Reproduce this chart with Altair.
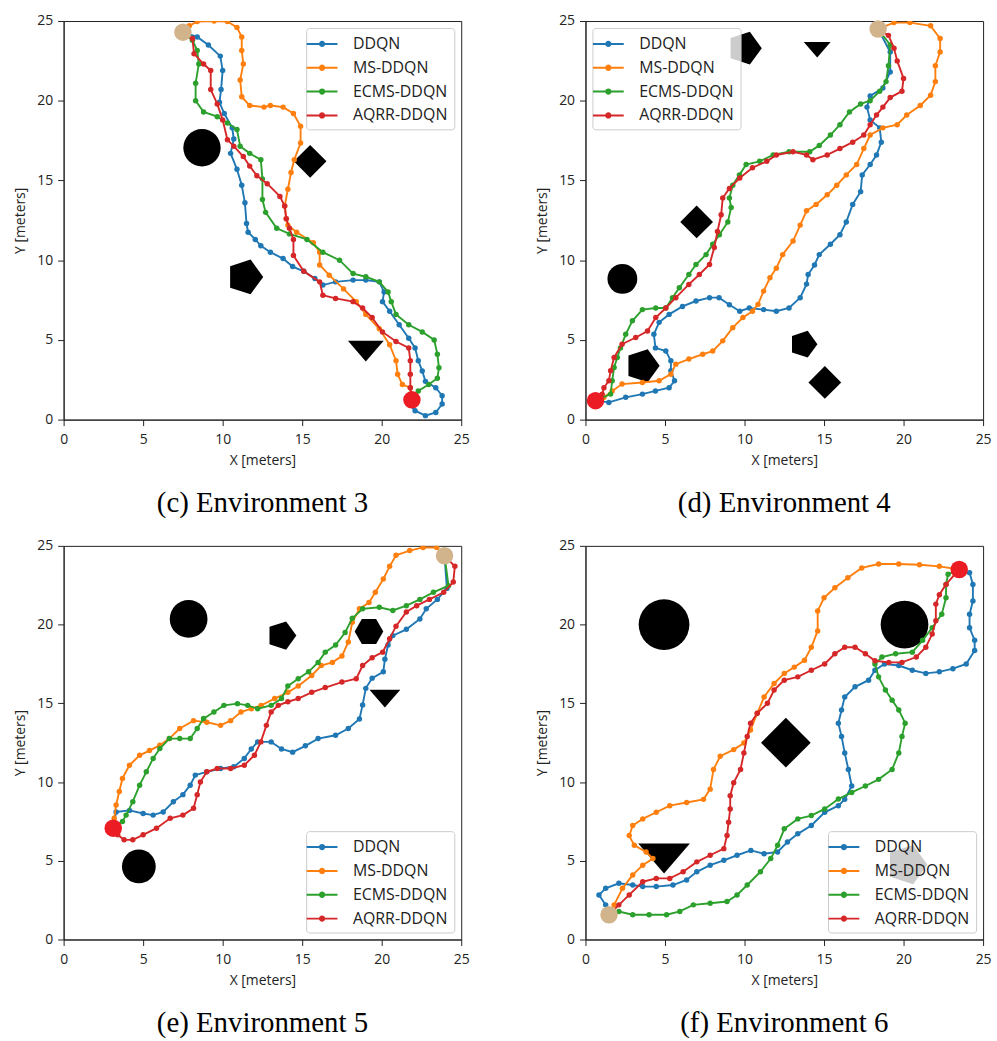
import altair as alt
import pandas as pd

METHODS = ["DDQN", "MS-DDQN", "ECMS-DDQN", "AQRR-DDQN"]
COLORS = ["#1f77b4", "#ff7f0e", "#2ca02c", "#d62728"]
TICKS = [0, 5, 10, 15, 20, 25]

# ---------------- Environment 3 ----------------
C_START = (7.5, 24.3)
C_GOAL = (21.9, 1.24)
C_DDQN = [(7.5,24.3),(8.4,24.0),(9.1,23.5),(9.85,22.8),(10.0,21.9),(9.9,20.7),(9.8,19.9),(10.1,19.2),(10.6,18.3),(10.7,17.6),(10.5,16.7),(10.9,15.7),(11.2,14.7),(11.4,13.6),(11.5,12.3),(11.6,11.75),(12.05,11.3),(12.4,10.9),(13.0,10.5),(13.8,10.1),(14.4,9.6),(15.1,9.3),(15.8,8.85),(16.3,8.44),(17.1,8.64),(18.2,8.75),(19.0,8.75),(19.85,8.64),(20.15,8.0),(20.05,7.4),(20.5,6.8),(21.1,5.95),(21.7,5.1),(22.1,4.5),(22.3,3.7),(22.55,3.05),(22.75,2.4),(23.4,2.0),(23.8,1.5),(23.8,0.98),(23.4,0.45),(22.75,0.25),(22.1,0.56),(21.7,0.98),(21.9,1.24)]
C_MS = [(7.5,24.3),(7.9,24.7),(8.4,24.97),(9.46,25.0),(10.3,24.97),(10.9,24.6),(11.2,24.0),(11.2,23.15),(11.3,22.3),(11.1,21.3),(11.2,20.25),(11.7,19.7),(12.6,19.6),(13.0,19.7),(13.8,19.6),(14.45,19.2),(14.9,18.4),(14.9,17.35),(14.5,16.3),(14.3,15.5),(14.1,14.45),(13.9,13.4),(14.0,12.6),(14.1,12.2),(14.65,11.75),(15.7,11.1),(16.1,10.5),(16.1,9.7),(16.7,9.06),(17.6,8.2),(18.4,7.4),(19.0,6.6),(19.85,5.7),(20.5,4.7),(20.9,3.7),(21.0,2.85),(21.3,2.2),(21.8,2.0),(21.9,1.24)]
C_ECMS = [(7.5,24.3),(8.1,23.8),(8.4,23.15),(8.5,22.3),(8.3,21.1),(8.3,20.0),(8.8,19.3),(9.66,19.0),(10.3,18.6),(10.9,18.2),(11.1,17.15),(11.7,16.7),(12.4,16.3),(12.5,15.1),(12.5,13.8),(12.7,13.0),(13.4,12.0),(14.2,11.65),(15.3,11.3),(16.3,10.5),(17.35,10.0),(18.2,9.16),(19.0,8.96),(19.85,8.64),(20.4,8.0),(20.6,7.4),(20.9,6.6),(21.7,5.95),(22.55,5.5),(23.3,5.0),(23.5,4.1),(23.6,3.25),(23.5,2.6),(22.95,2.2),(22.3,1.8),(21.9,1.24)]
C_AQRR = [(7.5,24.3),(8.1,23.9),(8.2,22.95),(8.8,22.3),(9.25,21.9),(9.25,20.7),(9.66,19.8),(10.0,18.8),(10.3,17.55),(10.7,17.15),(11.3,16.5),(11.7,15.9),(12.15,15.3),(12.8,14.8),(13.6,14.0),(13.9,13.4),(14.0,12.6),(14.2,12.0),(14.45,11.3),(14.45,10.3),(15.1,9.3),(16.1,8.64),(16.3,7.8),(17.1,7.6),(18.2,7.4),(18.8,7.0),(19.4,6.4),(20.05,5.5),(20.9,4.9),(21.7,4.5),(21.8,3.7),(21.8,2.85),(21.8,2.0),(21.9,1.24)]
# obstacles: x, y, kind, extent in meters
C_OBS = [(8.7,17.05,"circle",2.35),(15.5,16.2,"diamond",2.06),(11.4,8.95,"pentagon",2.3),(19.0,4.3,"triangle",2.25)]

# ---------------- Environment 4 ----------------
D_START = (18.4, 24.5)
D_GOAL = (0.63, 1.19)
D_DDQN = [(18.4,24.5),(19.16,23.06),(19.16,21.8),(18.7,20.8),(17.9,20.3),(17.7,19.6),(17.9,18.8),(18.5,18.3),(18.6,17.4),(18.3,16.6),(17.9,16.0),(17.4,15.35),(17.3,14.3),(16.8,13.5),(16.4,12.4),(16.0,11.6),(15.4,11.0),(14.7,10.35),(14.4,9.7),(14.0,9.1),(13.9,8.5),(13.5,7.65),(12.8,7.0),(12.0,6.8),(11.2,6.9),(10.3,7.0),(9.7,6.8),(9.05,7.2),(8.4,7.65),(7.8,7.65),(6.95,7.44),(6.1,7.1),(5.26,6.6),(4.63,6.1),(4.3,5.35),(4.4,4.5),(5.05,4.3),(5.37,3.7),(5.37,3.06),(5.6,2.44),(5.26,2.0),(4.4,1.8),(3.58,1.6),(2.53,1.4),(1.47,1.08),(0.63,1.19)]
D_MS = [(18.4,24.5),(19.4,24.9),(20.4,24.9),(21.7,24.7),(22.3,23.9),(22.3,23.06),(22.0,22.2),(22.0,21.2),(21.7,20.35),(21.05,19.7),(20.2,19.1),(19.6,18.5),(18.7,18.3),(17.9,17.85),(17.5,17.0),(17.05,16.0),(16.4,15.35),(15.8,14.7),(15.2,14.1),(14.5,13.5),(13.9,13.1),(13.5,12.2),(13.05,11.2),(12.4,10.35),(12.0,9.5),(11.6,8.9),(11.2,8.06),(10.85,7.23),(10.5,6.8),(9.9,6.4),(9.26,5.77),(8.63,4.94),(8.0,4.3),(7.37,4.1),(6.5,3.8),(5.68,3.48),(5.37,2.85),(4.63,2.44),(3.58,2.33),(2.3,2.23),(1.68,1.8),(1.16,1.4),(0.63,1.19)]
D_ECMS = [(18.4,24.5),(19.16,23.5),(19.05,22.2),(18.9,21.2),(18.5,20.6),(17.9,20.0),(17.3,19.8),(16.6,19.3),(16.0,18.5),(15.4,17.85),(14.7,17.2),(14.1,16.8),(12.8,16.8),(11.8,16.6),(10.95,16.2),(10.1,16.0),(9.68,15.35),(9.26,14.7),(9.05,13.9),(9.16,13.3),(8.95,12.4),(8.42,11.6),(8.0,11.0),(7.58,10.35),(6.95,9.73),(6.5,9.1),(5.9,8.27),(5.47,7.65),(5.05,7.0),(4.42,7.0),(3.58,6.9),(2.95,6.2),(2.53,5.35),(2.2,4.5),(2.0,3.9),(1.8,3.27),(1.68,2.44),(1.58,1.6),(0.63,1.19)]
D_AQRR = [(18.4,24.5),(19.05,24.1),(19.4,23.3),(19.6,22.5),(20.0,21.4),(19.9,20.6),(19.16,20.2),(18.7,19.6),(18.3,19.1),(17.9,18.5),(17.5,17.85),(16.8,17.4),(16.0,17.0),(15.2,16.6),(14.3,16.3),(13.9,16.6),(13.05,16.8),(12.0,16.6),(11.4,16.2),(10.5,15.8),(9.7,15.15),(9.05,14.5),(8.63,13.9),(8.53,12.85),(8.3,11.8),(8.1,10.8),(7.8,9.73),(7.16,9.1),(6.5,8.48),(5.68,7.65),(5.05,7.0),(4.42,6.4),(3.9,5.56),(3.16,5.15),(2.3,4.73),(1.8,3.9),(1.58,3.06),(1.47,2.44),(1.16,2.0),(1.05,1.6),(0.63,1.19)]
D_OBS = [(2.32,8.83,"circle",1.875),(6.99,12.4,"diamond",2.06),(3.58,3.38,"pentagon",2.17),(13.7,4.73,"pentagon",1.77),(15.05,2.33,"diamond",2.06),(10.0,23.3,"pentagon",2.17),(14.57,23.2,"triangle",1.69)]

# ---------------- Environment 5 ----------------
E_START = (23.95, 24.37)
E_GOAL = (3.12, 7.07)
E_DDQN = [(23.95,24.37),(24.1,22.3),(23.5,21.6),(22.8,21.0),(22.4,20.36),(21.55,19.7),(20.7,19.3),(20.4,18.7),(20.2,17.8),(20.1,17.0),(19.4,16.6),(19.0,15.95),(18.8,14.9),(18.6,14.0),(17.9,13.4),(17.1,12.97),(16.0,12.76),(15.2,12.3),(14.4,11.9),(13.7,12.1),(13.05,12.55),(12.2,12.55),(11.8,12.1),(11.36,11.5),(10.7,10.97),(9.87,10.86),(9.0,10.65),(8.28,10.44),(7.96,9.8),(7.5,9.2),(6.9,8.75),(6.26,8.1),(5.63,7.9),(5.0,8.0),(4.14,8.2),(3.3,8.1),(3.12,7.07)]
E_MS = [(23.95,24.37),(23.46,24.9),(22.6,24.9),(21.76,24.7),(20.9,24.4),(20.5,23.7),(20.1,22.9),(19.6,22.05),(19.2,21.4),(18.6,21.0),(18.15,20.15),(17.9,18.9),(17.5,18.0),(16.9,17.6),(16.2,17.4),(15.6,16.77),(14.75,16.1),(14.1,15.7),(13.27,15.3),(12.42,14.87),(11.8,14.66),(11.15,14.45),(10.5,13.9),(9.87,13.6),(9.0,13.8),(8.17,13.9),(7.3,13.4),(6.65,12.76),(6.05,12.34),(5.4,12.0),(4.78,11.7),(4.14,11.07),(3.7,10.23),(3.5,9.4),(3.3,8.54),(3.18,7.7),(3.12,7.07)]
E_ECMS = [(23.95,24.37),(24.2,22.47),(23.25,22.05),(22.4,21.6),(21.55,21.2),(20.7,20.9),(19.85,21.1),(18.8,21.0),(18.15,20.4),(17.7,19.5),(17.1,18.7),(16.45,18.25),(16.0,17.6),(15.4,17.0),(14.75,16.56),(14.1,16.1),(13.7,15.3),(13.05,14.87),(12.2,14.66),(11.57,14.87),(10.93,14.98),(10.08,14.87),(9.45,14.45),(8.8,14.03),(8.4,13.4),(7.96,12.76),(7.3,12.76),(6.65,12.76),(6.05,12.13),(5.63,11.5),(5.2,10.65),(4.78,9.8),(4.35,8.75),(3.93,7.9),(3.7,7.5),(3.12,7.07)]
E_AQRR = [(23.95,24.37),(24.6,23.7),(24.5,22.7),(23.9,22.05),(23.0,21.6),(22.2,21.2),(21.55,20.8),(20.9,19.9),(20.5,19.1),(20.06,18.25),(19.4,17.9),(18.8,17.4),(18.4,16.56),(17.5,16.35),(16.45,16.0),(15.6,15.7),(14.75,15.3),(14.1,15.1),(13.5,14.87),(13.05,14.45),(12.75,13.6),(12.4,12.55),(12.0,11.7),(11.36,11.07),(10.5,10.86),(9.66,10.86),(9.0,10.65),(8.6,10.0),(8.4,9.2),(8.17,8.33),(7.5,7.9),(6.7,7.7),(5.84,7.07),(5.0,6.65),(4.35,6.33),(3.8,6.33),(3.4,6.65),(3.12,7.07)]
E_OBS = [(7.86,20.36,"circle",2.375),(4.73,4.64,"circle",2.125),(13.7,19.3,"pentagon",1.87),(19.2,19.56,"hexagon",1.8),(20.2,15.3,"triangle",1.94)]

# ---------------- Environment 6 ----------------
F_START = (1.48, 1.57)
F_GOAL = (23.5, 23.5)
F_DDQN = [(1.48,1.57),(1.27,2.2),(0.85,2.83),(1.27,3.25),(2.1,3.57),(2.97,3.46),(3.6,3.36),(4.45,3.36),(5.5,3.46),(6.36,3.78),(7.0,4.3),(7.84,4.72),(8.7,5.03),(9.53,5.35),(10.4,5.66),(11.23,5.45),(12.08,5.56),(12.7,6.19),(13.35,6.71),(14.2,7.24),(15.04,8.08),(15.9,8.5),(16.3,8.9),(16.74,9.75),(16.53,10.8),(16.3,11.85),(16.1,12.9),(15.9,13.74),(16.1,14.58),(16.3,15.4),(16.95,16.05),(17.8,16.47),(18.2,17.1),(18.8,17.5),(19.7,17.4),(20.55,17.1),(21.4,16.9),(22.25,17.0),(23.1,17.2),(23.94,17.5),(24.47,18.35),(24.47,19.0),(24.15,19.8),(24.15,20.66),(24.36,21.5),(24.36,22.55),(24.15,23.3),(23.5,23.5)]
F_MS = [(1.48,1.57),(1.8,2.2),(2.33,3.25),(2.97,4.1),(3.6,4.72),(4.24,5.14),(3.81,5.56),(3.07,5.98),(2.75,6.6),(2.97,7.24),(3.6,7.66),(4.45,8.08),(5.3,8.5),(6.36,8.7),(7.42,8.9),(7.84,9.55),(8.05,10.8),(8.47,11.64),(9.32,12.06),(9.96,12.48),(10.38,13.3),(10.8,14.37),(11.23,15.4),(11.86,16.26),(12.5,16.9),(13.13,17.3),(13.77,17.73),(14.2,18.56),(14.6,19.6),(14.6,20.87),(15.0,21.7),(15.68,22.34),(16.5,22.97),(17.37,23.6),(18.43,23.85),(19.7,23.85),(21.0,23.8),(22.25,23.7),(23.5,23.5)]
F_ECMS = [(1.48,1.57),(2.1,1.78),(2.97,1.57),(4.0,1.57),(5.1,1.57),(5.93,1.78),(6.78,2.2),(7.84,2.3),(8.9,2.41),(9.53,2.83),(10.17,3.46),(11.0,4.3),(11.65,5.14),(12.08,5.98),(12.5,7.03),(13.35,7.66),(14.2,7.87),(15.04,8.29),(15.9,8.92),(16.74,9.34),(17.6,9.75),(18.43,10.17),(19.28,10.8),(19.7,11.85),(19.9,12.9),(20.1,13.74),(19.7,14.58),(19.28,15.2),(18.86,15.84),(18.43,16.68),(18.2,17.5),(18.64,17.94),(19.5,18.15),(20.55,18.25),(21.2,19.0),(21.8,19.8),(22.4,20.66),(22.67,21.7),(22.67,22.55),(22.8,23.2),(23.5,23.5)]
F_AQRR = [(1.48,1.57),(2.1,2.2),(2.75,2.83),(3.6,3.67),(4.45,3.88),(5.3,3.88),(6.14,4.3),(7.0,4.93),(7.84,5.35),(8.7,5.77),(8.9,6.6),(9.0,7.45),(9.1,8.29),(9.1,9.13),(9.32,9.96),(9.75,10.8),(9.96,11.85),(10.17,12.9),(10.38,13.74),(10.8,14.37),(11.44,15.0),(11.86,15.84),(12.5,16.47),(13.35,16.68),(14.2,17.1),(15.04,17.5),(15.68,18.15),(16.3,18.56),(16.95,18.56),(17.6,18.15),(18.2,17.7),(19.07,17.6),(19.9,17.6),(20.8,17.94),(21.4,18.56),(21.8,19.4),(22.03,20.24),(22.03,21.3),(22.25,21.9),(22.67,22.55),(23.5,23.5)]
F_OBS = [(4.94,20.0,"circle",3.19),(20.06,20.0,"circle",3.0),(12.6,12.5,"diamond",3.125),(4.94,5.14,"triangle",3.25),(20.2,4.75,"pentagon",2.6)]

# ---------------- styling ----------------
PX_PER_M = 16.0
SHAPE_KINDS = ["circle", "diamond", "pentagon", "hexagon", "triangle"]
SHAPE_PATHS = [
    "circle",
    "M0,-1L1,0L0,1L-1,0Z",
    "M1,0L0.309,0.951L-0.809,0.588L-0.809,-0.588L0.309,-0.951Z",
    "M1,0L0.5,0.866L-0.5,0.866L-1,0L-0.5,-0.866L0.5,-0.866Z",
    "M-1,-0.58L1,-0.58L0,0.58Z",
]
LEG_SYM = "M-1.79,0L1.79,0M-0.25,0A0.25,0.25 0 1 1 0.25,0A0.25,0.25 0 1 1 -0.25,0Z"
FONT = "Open Sans"


def panel(paths, start, goal, obstacles, caption, legend_orient, height):
    rows = []
    for m, pts in zip(METHODS, paths):
        for i, (x, y) in enumerate(pts):
            rows.append({"method": m, "i": i, "x": x, "y": y})
    df = pd.DataFrame(rows)
    obs = pd.DataFrame(
        [{"x": x, "y": y, "kind": k, "sz": (e * PX_PER_M) ** 2} for x, y, k, e in obstacles]
    )
    ends = pd.DataFrame(
        [{"x": start[0], "y": start[1], "role": "start"}, {"x": goal[0], "y": goal[1], "role": "goal"}]
    )

    X = alt.X("x:Q", scale=alt.Scale(domain=[0, 25], nice=False, zero=False),
              axis=alt.Axis(values=TICKS, title="X [meters]", format="d", labelFlush=False,
                            titlePadding=7))
    Y = alt.Y("y:Q", scale=alt.Scale(domain=[0, 25], nice=False, zero=False),
              axis=alt.Axis(values=TICKS, title="Y [meters]", format="d", titlePadding=9,
                            labelPadding=5))
    color = alt.Color(
        "method:N",
        scale=alt.Scale(domain=METHODS, range=COLORS),
        legend=alt.Legend(
            title=None, orient=legend_orient, offset=7, padding=6,
            symbolType=LEG_SYM, symbolSize=300, symbolStrokeWidth=2,
            labelFont=FONT, labelFontSize=16, labelColor="#222", labelOffset=21,
            rowPadding=6, fillColor="rgba(255,255,255,0.8)", strokeColor="#cccccc",
            cornerRadius=3,
        ),
    )

    obs_layer = alt.Chart(obs).mark_point(filled=True, color="black", opacity=1, strokeWidth=0).encode(
        x=X, y=Y,
        shape=alt.Shape("kind:N", scale=alt.Scale(domain=SHAPE_KINDS, range=SHAPE_PATHS), legend=None),
        size=alt.Size("sz:Q", scale=None, legend=None),
    )
    layers = [obs_layer]
    for m in METHODS:
        base = alt.Chart(df).transform_filter(alt.datum.method == m)
        layers.append(base.mark_line(strokeWidth=1.9, clip=True).encode(x=X, y=Y, color=color, order="i:Q"))
        layers.append(base.mark_circle(size=30, opacity=1, clip=True).encode(x=X, y=Y, color=color))
    layers.append(
        alt.Chart(ends).mark_circle(opacity=1, size=310).encode(
            x=X, y=Y,
            fill=alt.Fill("role:N", scale=alt.Scale(domain=["start", "goal"], range=["#d2b48c", "#ec1c24"]), legend=None),
        )
    )
    return alt.layer(*layers).properties(
        width=400, height=height,
        title=alt.TitleParams(caption, orient="bottom", font="Liberation Serif", fontSize=29,
                              fontWeight="normal", color="black", offset=22, anchor="middle"),
    )


pc = panel([C_DDQN, C_MS, C_ECMS, C_AQRR], C_START, C_GOAL, C_OBS, "(c) Environment 3", "top-right", 401)
pd_ = panel([D_DDQN, D_MS, D_ECMS, D_AQRR], D_START, D_GOAL, D_OBS, "(d) Environment 4", "top-left", 401)
pe = panel([E_DDQN, E_MS, E_ECMS, E_AQRR], E_START, E_GOAL, E_OBS, "(e) Environment 5", "bottom-right", 396)
pf = panel([F_DDQN, F_MS, F_ECMS, F_AQRR], F_START, F_GOAL, F_OBS, "(f) Environment 6", "bottom-right", 396)

chart = (
    alt.concat(pc, pd_, pe, pf, columns=2, spacing={"row": 19, "column": 65})
    .resolve_scale(color="independent", shape="independent", size="independent", fill="independent",
                   x="independent", y="independent")
    .resolve_legend(color="independent")
    .configure_axis(
        labelFont=FONT, labelFontSize=14, labelColor="#222", titleFont=FONT, titleFontSize=14,
        titleFontWeight="normal", titleColor="#222", tickSize=6, tickColor="#222",
        domainColor="#222", grid=False, labelPadding=7,
    )
    .configure_view(stroke="#222", strokeWidth=1)
    .properties(padding={"left": 13, "top": 10, "right": 5, "bottom": 5}, background="white")
)

chart.save("out.html", embed_options={"renderer": "svg", "actions": False})
